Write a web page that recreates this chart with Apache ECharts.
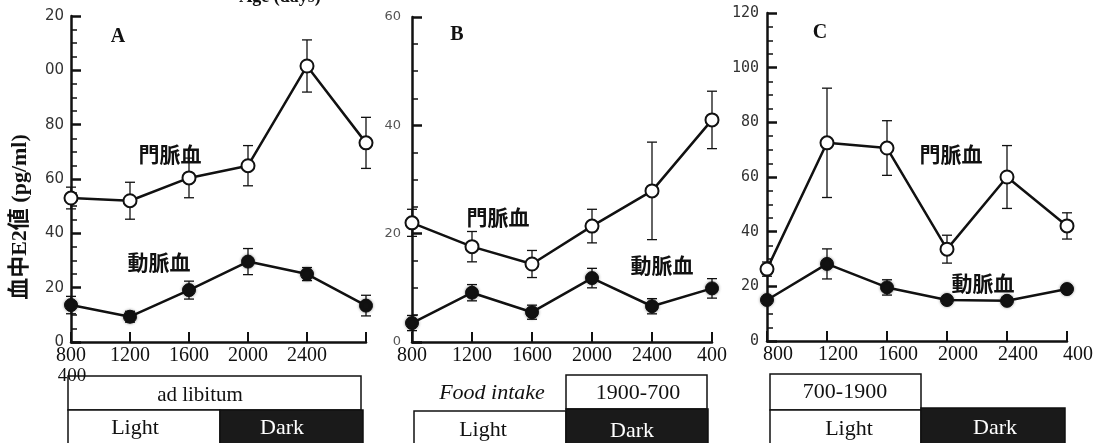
<!DOCTYPE html>
<html>
<head>
<meta charset="utf-8">
<script src="https://cdn.jsdelivr.net/npm/echarts@6/dist/echarts.min.js"></script>
<style>html,body{margin:0;padding:0;background:#fff}#c{width:1098px;height:443px}</style>
</head>
<body>
<div id="c"></div>
<script>
// ---- data ----
const hours = ['800','1200','1600','2000','2400','400'];
const xLabelsA = ['800','1200','1600','2000','2400',''];
const yLabelsA = ['0','20','40','60','80','00','20'];
const yLabelsB = ['0','20','40','60'];
const yLabelsC = ['0','20','40','60','80','100','120'];

const portalA = [53.0, 52.0, 60.4, 64.9, 101.6, 73.3];
const portalAErr = [4.0, 6.8, 7.3, 7.4, 9.6, 9.4];
const arterialA = [13.6, 9.3, 19.1, 29.6, 25.0, 13.4];
const arterialAErr = [3.2, 2.0, 3.3, 4.8, 2.4, 3.8];

const portalB = [22.0, 17.6, 14.4, 21.4, 27.9, 41.0];
const portalBErr = [2.5, 2.8, 2.5, 3.1, 9.0, 5.3];
const arterialB = [3.5, 9.1, 5.5, 11.8, 6.6, 9.9];
const arterialBErr = [1.4, 1.5, 1.3, 1.8, 1.4, 1.8];

const portalC = [26.3, 72.5, 70.6, 33.6, 60.0, 42.1];
const portalCErr = [2.6, 20.0, 10.0, 5.1, 11.5, 4.8];
const arterialC = [15.0, 28.2, 19.6, 15.0, 14.7, 19.0];
const arterialCErr = [1.2, 5.5, 2.8, 1.5, 1.0, 1.5];

// ---- helpers ----
function errData(vals, errs){ return vals.map((v,i)=>[i, v-errs[i], v+errs[i]]); }
function errSeries(vals, errs, k){
  return {
    type:'custom', xAxisIndex:k, yAxisIndex:k, z:2, silent:true,
    data: errData(vals, errs), encode:{x:0, y:[1,2]},
    renderItem:function(params, api){
      const lo = api.coord([api.value(0), api.value(1)]);
      const hi = api.coord([api.value(0), api.value(2)]);
      const w = 5;
      const st = {stroke:'#111', lineWidth:1.3};
      return {type:'group', children:[
        {type:'line', shape:{x1:lo[0],y1:lo[1],x2:hi[0],y2:hi[1]}, style:st},
        {type:'line', shape:{x1:hi[0]-w,y1:hi[1],x2:hi[0]+w,y2:hi[1]}, style:st},
        {type:'line', shape:{x1:lo[0]-w,y1:lo[1],x2:lo[0]+w,y2:lo[1]}, style:st}
      ]};
    }
  };
}
function openLine(vals, k){
  return {type:'line', xAxisIndex:k, yAxisIndex:k, z:5, data:vals, symbol:'circle', symbolSize:13,
    itemStyle:{color:'#fff', borderColor:'#111', borderWidth:2}, lineStyle:{color:'#111', width:2.5}};
}
function filledLine(vals, k){
  return {type:'line', xAxisIndex:k, yAxisIndex:k, z:5, data:vals, symbol:'circle', symbolSize:13,
    itemStyle:{color:'#111', borderColor:'#111', borderWidth:1, shadowColor:'rgba(0,0,0,0.35)', shadowBlur:3}, lineStyle:{color:'#111', width:2.5}};
}
function xAx(k, labels, extra){
  return Object.assign({
    type:'category', gridIndex:k, data:hours, boundaryGap:false,
    axisLine:{lineStyle:{color:'#111', width:2.5}},
    axisTick:{inside:true, length:10, lineStyle:{color:'#111', width:2}},
    axisLabel:{margin:4, fontFamily:'Liberation Serif', fontSize:20, color:'#111',
      formatter:(v,i)=>labels[i], interval:0}
  }, extra||{});
}
function yAx(k, max, labels, font, extra){
  return Object.assign({
    type:'value', gridIndex:k, min:0, max:max, interval:20,
    splitLine:{show:false},
    axisLine:{show:true, lineStyle:{color:'#111', width:2.5}},
    axisTick:{show:true, inside:true, length:10, lineStyle:{color:'#111', width:2.5}},
    minorTick:{show:true, splitNumber:4, length:6, lineStyle:{color:'#111', width:1.5}},
    axisLabel:Object.assign({formatter:(v)=>labels[Math.round(v/20)]}, font)
  }, extra||{});
}

const serif = 'Liberation Serif';
const cjk = '"Noto Sans CJK JP"';
function txt(x, y, s, style){
  return {type:'text', x:x, y:y, z:100, style:Object.assign({text:s, align:'center', verticalAlign:'middle', fill:'#111'}, style||{})};
}
function box(x, y, w, h, fill){
  return {type:'rect', z:50, shape:{x:x, y:y, width:w, height:h}, style:{fill:fill, stroke:'#111', lineWidth:1.5}};
}

const option = {
  backgroundColor:'#fff',
  animation:false,
  grid:[
    {left:71, top:16, width:295, height:326},
    {left:412, top:17, width:300, height:325},
    {left:767, top:13, width:300, height:328}
  ],
  xAxis:[
    xAx(0, xLabelsA),
    xAx(1, hours),
    xAx(2, hours, {axisLabel:{margin:4, fontFamily:serif, fontSize:20, color:'#111', interval:0, padding:[0,0,0,22],
      formatter:(v,i)=>hours[i]}})
  ],
  yAxis:[
    yAx(0, 120, yLabelsA, {fontFamily:'DejaVu Sans', fontSize:15, color:'#333', margin:7}),
    yAx(1, 60, yLabelsB, {fontFamily:'DejaVu Sans', fontSize:13, color:'#555', margin:11}),
    yAx(2, 120, yLabelsC, {fontFamily:'DejaVu Sans Mono', fontSize:15, color:'#333', margin:8})
  ],
  series:[
    errSeries(portalA, portalAErr, 0), errSeries(arterialA, arterialAErr, 0),
    openLine(portalA, 0), filledLine(arterialA, 0),
    errSeries(portalB, portalBErr, 1), errSeries(arterialB, arterialBErr, 1),
    openLine(portalB, 1), filledLine(arterialB, 1),
    errSeries(portalC, portalCErr, 2), errSeries(arterialC, arterialCErr, 2),
    openLine(portalC, 2), filledLine(arterialC, 2)
  ],
  graphic:[
    // top cut-off title
    txt(280, 6, 'Age (days)', {verticalAlign:'bottom', font:'bold 18px "Liberation Serif"'}),
    // y title
    {type:'text', x:20, y:217, rotation:Math.PI/2, z:100,
      style:{text:'血中E2値 (pg/ml)', align:'center', verticalAlign:'middle', fill:'#111',
        font:'bold 22px "Liberation Serif", "Noto Sans CJK JP"'}},
    // panel letters
    txt(118, 37, 'A', {font:'bold 20px "Liberation Serif"'}),
    txt(457, 35, 'B', {font:'bold 20px "Liberation Serif"'}),
    txt(820, 33, 'C', {font:'bold 20px "Liberation Serif"'}),
    // series labels
    txt(170, 154, '門脈血', {font:'bold 21px ' + cjk}),
    txt(159, 262, '動脈血', {font:'bold 21px ' + cjk}),
    txt(498, 217, '門脈血', {font:'bold 21px ' + cjk}),
    txt(662, 265, '動脈血', {font:'bold 21px ' + cjk}),
    txt(951, 154, '門脈血', {font:'bold 21px ' + cjk}),
    txt(983, 283, '動脈血', {font:'bold 21px ' + cjk}),
    // A boxes
    box(68, 376, 293, 34, '#fff'),
    box(68, 410, 152, 36, '#fff'),
    box(220, 410, 143, 36, '#1a1a1a'),
    txt(200, 395, 'ad libitum', {font:'21px "Liberation Serif"'}),
    txt(135, 428, 'Light', {font:'22px "Liberation Serif"'}),
    txt(282, 428, 'Dark', {font:'22px "Liberation Serif"', fill:'#fff'}),
    txt(72, 376, '400', {font:'19px "Liberation Serif"'}),
    // B boxes
    txt(492, 393, 'Food intake', {font:'italic 22px "Liberation Serif"'}),
    box(566, 375, 141, 34, '#fff'),
    box(414, 411, 152, 35, '#fff'),
    box(566, 409, 142, 37, '#1a1a1a'),
    txt(638, 393, '1900-700', {font:'22px "Liberation Serif"'}),
    txt(483, 430, 'Light', {font:'22px "Liberation Serif"'}),
    txt(632, 431, 'Dark', {font:'22px "Liberation Serif"', fill:'#fff'}),
    // C boxes
    box(770, 374, 151, 36, '#fff'),
    box(770, 410, 151, 36, '#fff'),
    box(921, 408, 144, 38, '#1a1a1a'),
    txt(845, 392, '700-1900', {font:'22px "Liberation Serif"'}),
    txt(849, 429, 'Light', {font:'22px "Liberation Serif"'}),
    txt(995, 428, 'Dark', {font:'22px "Liberation Serif"', fill:'#fff'})
  ]
};
const chart = echarts.init(document.getElementById('c'), null, {renderer:'canvas'});
chart.setOption(option);
</script>
</body>
</html>
